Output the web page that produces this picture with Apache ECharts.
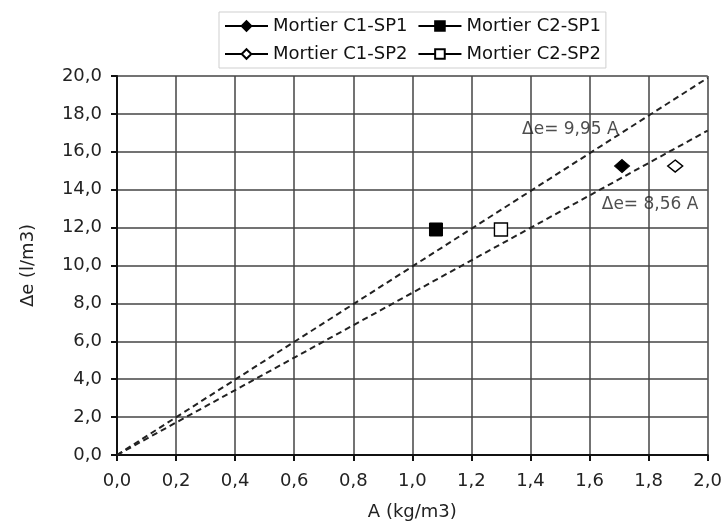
<!DOCTYPE html>
<html>
<head>
<meta charset="utf-8">
<script src="https://cdn.jsdelivr.net/npm/echarts@6/dist/echarts.min.js"></script>
<style>
  html, body { margin: 0; padding: 0; background: #fff; }
  #chart { width: 725px; height: 526px; }
</style>
</head>
<body>
<div id="chart"></div>
<script>
// ---- data ----
var seriesNames = ['Mortier C1-SP1', 'Mortier C2-SP1', 'Mortier C1-SP2', 'Mortier C2-SP2'];
var pointC1SP1 = [[1.71, 15.25]];
var pointC2SP1 = [[1.08, 11.9]];
var pointC1SP2 = [[1.89, 15.25]];
var pointC2SP2 = [[1.30, 11.9]];
var trendUpper = [[0, 0], [2.0, 19.9]];   // Δe = 9,95 A
var trendLower = [[0, 0], [2.0, 17.12]];  // Δe = 8,56 A
var trendLabels = ['\u0394e= 9,95 A', '\u0394e= 8,56 A'];
var trendLabelPos = [[1.535, 17.15], [1.805, 13.2]];
var xTicks = { min: 0, max: 2.0, step: 0.2 };
var yTicks = { min: 0, max: 20, step: 2 };
var xName = 'A (kg/m3)';
var yName = '\u0394e (l/m3)';

var FONT = 'DejaVu Sans';
function fmt(v) { return v.toFixed(1).replace('.', ','); }

function pointSeries(name, data, symbol, filled, size) {
  return {
    name: name,
    type: 'line',
    data: data,
    symbol: symbol,
    symbolSize: size,
    showSymbol: true,
    lineStyle: { color: '#000', width: 1.2 },
    itemStyle: filled
      ? { color: '#000', borderColor: '#000', borderWidth: 1 }
      : { color: '#fff', borderColor: '#000', borderWidth: 1.4 },
    z: 5
  };
}

var chart = echarts.init(document.getElementById('chart'), null, { renderer: 'canvas' });
chart.setOption({
  animation: false,
  backgroundColor: '#fff',
  textStyle: { fontFamily: FONT },
  grid: { left: 117, right: 17, top: 76, bottom: 66, containLabel: false },
  legend: {
    data: seriesNames,
    left: 219,
    top: 12,
    width: 380,
    padding: [5, 5, 5, 5],
    itemGap: 10,
    itemWidth: 43,
    itemHeight: 12,
    borderColor: '#cfcfcf',
    borderWidth: 1,
    textStyle: { fontFamily: FONT, fontSize: 18, color: '#111', lineHeight: 17 }
  },
  xAxis: {
    type: 'value',
    min: xTicks.min, max: xTicks.max, interval: xTicks.step,
    name: xName,
    nameLocation: 'middle',
    nameGap: 48,
    nameTextStyle: { fontFamily: FONT, fontSize: 18, color: '#222' },
    axisLine: { show: true, onZero: false, lineStyle: { color: '#111', width: 2 } },
    axisTick: { show: true, inside: false, length: 6, lineStyle: { color: '#111', width: 2 } },
    axisLabel: { margin: 17, fontFamily: FONT, fontSize: 18, color: '#222', formatter: fmt },
    splitLine: { show: true, lineStyle: { color: '#444', width: 1.5 } }
  },
  yAxis: {
    type: 'value',
    min: yTicks.min, max: yTicks.max, interval: yTicks.step,
    name: yName,
    nameLocation: 'middle',
    nameRotate: 90,
    nameGap: 80,
    nameTextStyle: { fontFamily: FONT, fontSize: 18, color: '#222' },
    axisLine: { show: true, onZero: false, lineStyle: { color: '#111', width: 2 } },
    axisTick: { show: true, inside: false, length: 6, lineStyle: { color: '#111', width: 2 } },
    axisLabel: { margin: 15, fontFamily: FONT, fontSize: 18, color: '#222', formatter: fmt },
    splitLine: { show: true, lineStyle: { color: '#444', width: 1.5 } }
  },
  series: [
    {
      name: 'trend1', type: 'line', data: trendUpper, showSymbol: false, silent: true,
      lineStyle: { color: '#222', width: 2, type: [6, 4] }, z: 3
    },
    {
      name: 'trend2', type: 'line', data: trendLower, showSymbol: false, silent: true,
      lineStyle: { color: '#222', width: 2, type: [6, 4] }, z: 3
    },
    {
      name: 'labels', type: 'scatter', silent: true, symbolSize: 0,
      data: trendLabelPos.map(function (p, i) { return { value: p, name: trendLabels[i] }; }),
      label: {
        show: true, position: 'inside', formatter: function (p) { return p.name; },
        fontFamily: FONT, fontSize: 17, color: '#222'
      },
      z: 4
    },
    pointSeries(seriesNames[0], pointC1SP1, 'diamond', true, [15, 13]),
    pointSeries(seriesNames[1], pointC2SP1, 'rect', true, [13, 13]),
    pointSeries(seriesNames[2], pointC1SP2, 'diamond', false, [15, 12]),
    pointSeries(seriesNames[3], pointC2SP2, 'rect', false, [13, 13])
  ]
});
</script>
</body>
</html>
